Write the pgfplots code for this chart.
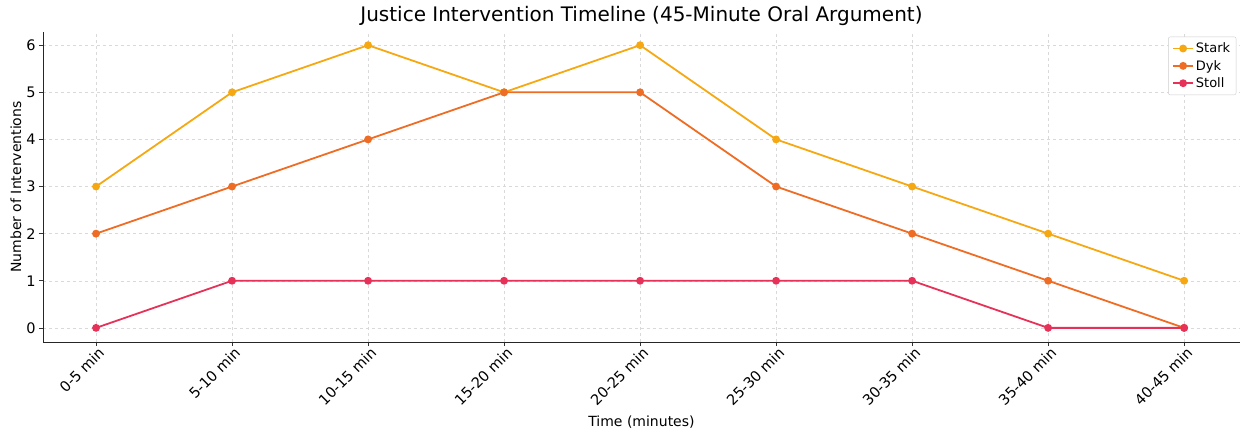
\documentclass[border=0pt]{standalone}
\usepackage{fontspec}
\setmainfont{DejaVu Sans}
\usepackage{pgfplots}
\pgfplotsset{compat=1.18}
\definecolor{cstark}{RGB}{246,168,18}
\definecolor{cdyk}{RGB}{238,108,36}
\definecolor{cstoll}{RGB}{230,50,88}
\begin{document}
\begin{tikzpicture}
\begin{axis}[
  scale only axis,
  width=1197bp, height=310bp,
  xmin=-0.39, xmax=8.41, ymin=-0.3, ymax=6.28,
  axis lines*=left,
  axis line style={line width=0.9pt, black!85},
  xtick={0,...,8},
  xticklabels={0-5 min,5-10 min,10-15 min,15-20 min,20-25 min,25-30 min,30-35 min,35-40 min,40-45 min},
  xticklabel style={rotate=45, anchor=north east, font=\fontsize{14.5bp}{16bp}\selectfont, inner sep=1pt, xshift=2pt},
  ytick={0,...,6},
  yticklabel style={font=\fontsize{14.5bp}{16bp}\selectfont},
  /pgf/number format/assume math mode=true,
  tick align=outside,
  major tick length=4bp,
  tick style={black!80, line width=0.6pt},
  grid=major,
  grid style={dashed, gray!30, line width=0.5pt},
  title={Justice Intervention Timeline (45-Minute Oral Argument)},
  title style={font=\fontsize{20bp}{23bp}\selectfont, yshift=-3bp},
  xlabel={Time (minutes)},
  ylabel={Number of Interventions},
  xlabel style={font=\fontsize{14bp}{16bp}\selectfont, yshift=-4bp},
  ylabel style={font=\fontsize{14bp}{16bp}\selectfont, yshift=-2bp},
  legend style={font=\fontsize{13bp}{15bp}\selectfont, draw=gray!40, rounded corners=2pt, at={(0.997,0.985)}, anchor=north east, inner sep=4pt, row sep=2pt, legend image code/.code={\draw[mark repeat=2,mark phase=2] plot coordinates {(0cm,0cm) (0.35cm,0cm) (0.7cm,0cm)};}},
  legend cell align=left,
  every axis plot/.append style={line width=1.8pt, mark=*, mark size=3pt},
]
\addplot[color=cstark, mark options={fill=cstark}] coordinates {(0,3) (1,5) (2,6) (3,5) (4,6) (5,4) (6,3) (7,2) (8,1)};
\addlegendentry{Stark}
\addplot[color=cdyk, mark options={fill=cdyk}] coordinates {(0,2) (1,3) (2,4) (3,5) (4,5) (5,3) (6,2) (7,1) (8,0)};
\addlegendentry{Dyk}
\addplot[color=cstoll, mark options={fill=cstoll}] coordinates {(0,0) (1,1) (2,1) (3,1) (4,1) (5,1) (6,1) (7,0) (8,0)};
\addlegendentry{Stoll}
\end{axis}
\pgfresetboundingbox
\path[use as bounding box] (current axis.south west) ++(-43bp,-98bp) rectangle ++(1248bp,440bp);
\end{tikzpicture}
\end{document}
